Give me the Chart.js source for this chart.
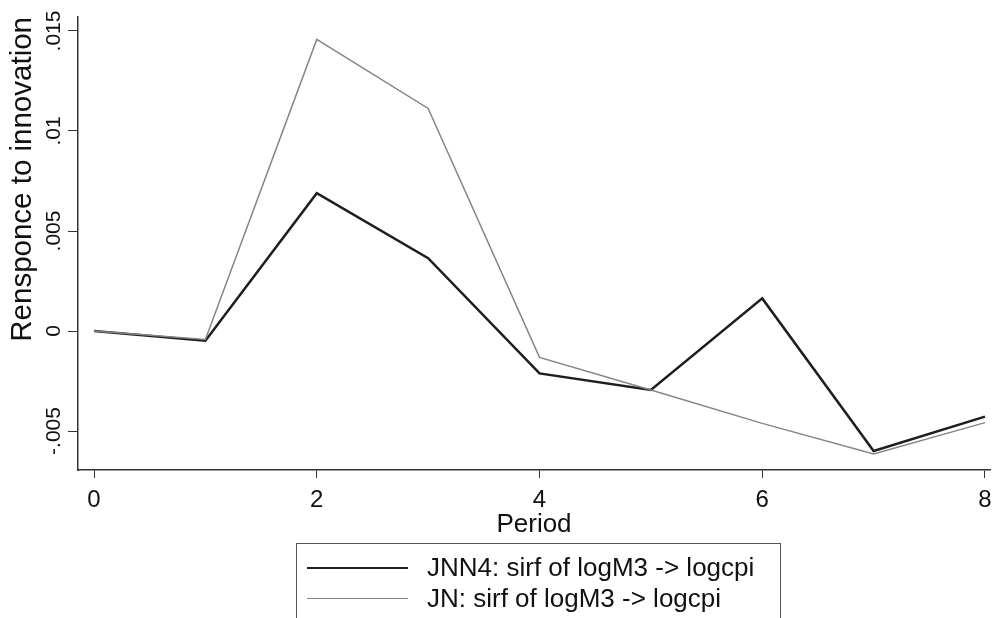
<!DOCTYPE html>
<html>
<head>
<meta charset="utf-8">
<script src="https://cdn.jsdelivr.net/npm/chart.js@4/dist/chart.umd.min.js"></script>
<style>
    html, body { margin: 0; padding: 0; background: #fff; overflow: hidden; }
    #wrap { position: relative; width: 992px; height: 618px; }
    #legend {
        position: absolute; left: 296px; top: 543px; width: 485px; height: 100px;
        border: 1px solid #555; box-sizing: border-box;
        font-family: "Liberation Sans", Arial, sans-serif; font-size: 26px; color: #111;
    }
    .row { position: absolute; left: 0; height: 30px; width: 100%; }
    .row .sample { position: absolute; left: 10px; width: 101px; top: 50%; }
    .row .label { position: absolute; left: 130px; top: 0; line-height: 30px; white-space: nowrap; }
</style>
</head>
<body>
<div id="wrap">
    <canvas id="irfChart" width="992" height="618"></canvas>
    <div id="legend"></div>
</div>
<script>
// Periods and impulse responses
const periods = [0, 1, 2, 3, 4, 5, 6, 7, 8];
const jnn4Values = [0, -0.00049, 0.00689, 0.00364, -0.00212, -0.00295, 0.00163, -0.0060, -0.00428];
const jnValues = [0, -0.00042, 0.01458, 0.01113, -0.00132, -0.00295, -0.00462, -0.00615, -0.00458];

const seriesNames = ['JNN4: sirf of logM3 -> logcpi', 'JN: sirf of logM3 -> logcpi'];

// Axis ticks
const xTicks = [0, 2, 4, 6, 8];
const yTicks = [-0.005, 0, 0.005, 0.01, 0.015];
const yTickLabels = ['-.005', '0', '.005', '.01', '.015'];

const FONT = '"Liberation Sans", Arial, sans-serif';
const dark = '#1e1e1e';
const light = '#858585';

function toPoints(values) {
    return periods.map((p, i) => ({ x: p, y: values[i] }));
}

// y tick labels are drawn rotated, like the Stata original
const rotatedYLabels = {
    id: 'rotatedYLabels',
    afterDraw(chart) {
        const scale = chart.scales.y;
        const ctx = chart.ctx;
        ctx.save();
        ctx.font = '21px ' + FONT;
        ctx.fillStyle = '#111';
        ctx.textAlign = 'center';
        ctx.textBaseline = 'middle';
        yTicks.forEach((v, i) => {
            const y = scale.getPixelForValue(v);
            ctx.save();
            ctx.translate(54, y);
            ctx.rotate(-Math.PI / 2);
            ctx.fillText(yTickLabels[i], 0, 0);
            ctx.restore();
        });
        ctx.restore();
    }
};

const ctx = document.getElementById('irfChart').getContext('2d');
new Chart(ctx, {
    type: 'line',
    data: {
        datasets: [{
            label: seriesNames[1],
            data: toPoints(jnValues),
            borderColor: light,
            borderWidth: 1.5,
            pointRadius: 0,
            tension: 0,
            fill: false
        }, {
            label: seriesNames[0],
            data: toPoints(jnn4Values),
            borderColor: dark,
            borderWidth: 2.5,
            pointRadius: 0,
            tension: 0,
            fill: false
        }]
    },
    options: {
        responsive: false,
        animation: false,
        layout: { padding: { top: 17, right: 2, bottom: 78, left: 0 } },
        plugins: {
            legend: { display: false },
            tooltip: { enabled: false }
        },
        scales: {
            x: {
                type: 'linear',
                min: -0.144,
                max: 8.045,
                afterBuildTicks: scale => { scale.ticks = xTicks.map(v => ({ value: v })); },
                afterFit: scale => {
                    scale.height = 70;
                    scale.paddingLeft = 0;
                    scale.paddingRight = 0;
                },
                grid: { drawOnChartArea: false, drawTicks: true, tickLength: 8, color: '#333', lineWidth: 1 },
                border: { display: true, color: '#333', width: 1.5 },
                ticks: { autoSkip: false, maxRotation: 0, padding: 8, color: '#111', font: { family: FONT, size: 24 } },
                title: { display: true, text: 'Period', color: '#111', padding: { top: 0, bottom: 0 }, font: { family: FONT, size: 26 } }
            },
            y: {
                type: 'linear',
                min: -0.00695,
                max: 0.0157,
                afterBuildTicks: scale => { scale.ticks = yTicks.map(v => ({ value: v })); },
                afterFit: scale => {
                    scale.width = 78;
                    scale.paddingTop = 0;
                    scale.paddingBottom = 0;
                },
                grid: { drawOnChartArea: false, drawTicks: true, tickLength: 10, color: '#333', lineWidth: 1 },
                border: { display: true, color: '#333', width: 1.5 },
                ticks: { display: false },
                title: { display: true, text: 'Rensponce to innovation', align: 'end', color: '#111', padding: { top: 5, bottom: 0 }, font: { family: FONT, size: 29.5 } }
            }
        }
    },
    plugins: [rotatedYLabels]
});

// legend box under the plot
const legendEl = document.getElementById('legend');
[[seriesNames[0], dark, 2.5, 8], [seriesNames[1], light, 1.5, 39]].forEach(([name, color, w, top]) => {
    const row = document.createElement('div');
    row.className = 'row';
    row.style.top = top + 'px';
    row.innerHTML = `<div class="sample" style="border-top:${w}px solid ${color}"></div><div class="label">${name.replace('>', '&gt;')}</div>`;
    legendEl.appendChild(row);
});
</script>
</body>
</html>
